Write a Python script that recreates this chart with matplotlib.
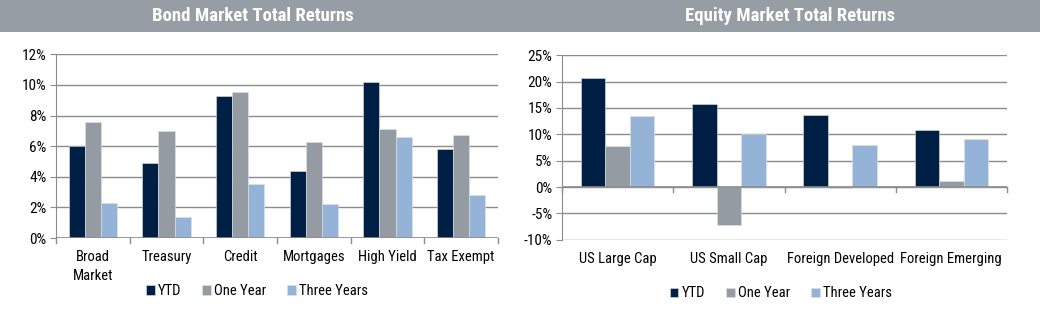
import matplotlib.pyplot as plt
import matplotlib.ticker as mticker
import numpy as np

plt.rcParams['font.family'] = ['Roboto Condensed', 'DejaVu Sans']

# bond market returns (%)
bond_cats = ['Broad\nMarket', 'Treasury', 'Credit', 'Mortgages', 'High Yield', 'Tax Exempt']
bond_ytd = [6.0, 4.9, 9.3, 4.4, 10.2, 5.8]
bond_one = [7.6, 7.0, 9.55, 6.3, 7.1, 6.7]
bond_three = [2.3, 1.4, 3.5, 2.2, 6.6, 2.8]

# equity market returns (%)
eq_cats = ['US Large Cap', 'US Small Cap', 'Foreign Developed', 'Foreign Emerging']
eq_ytd = [20.6, 15.7, 13.7, 10.9]
eq_one = [7.7, -7.2, -0.2, 1.1]
eq_three = [13.5, 10.1, 8.0, 9.2]

series_names = ['YTD', 'One Year', 'Three Years']
colors = ['#001F45', '#959BA2', '#95B3D7']
GRID = '#8c8c8c'
BAND = '#979DA4'

W, H = 1040, 323
fig = plt.figure(figsize=(W / 100, H / 100), dpi=100)

# grey title band across the top
band = fig.add_axes([0, 1 - 32 / H, 1, 32 / H])
band.set_facecolor(BAND)
band.set_xticks([])
band.set_yticks([])
for s in band.spines.values():
    s.set_visible(False)
fig.text(253 / W, 1 - 16 / H, 'Bond Market Total Returns', color='white',
         fontsize=13.5, fontweight='bold', ha='center', va='center')
fig.text(790 / W, 1 - 16 / H, 'Equity Market Total Returns', color='white',
         fontsize=13.5, fontweight='bold', ha='center', va='center')


def px_axes(x0, x1, y0, y1):
    return fig.add_axes([x0 / W, 1 - y1 / H, (x1 - x0) / W, (y1 - y0) / H])


def draw_bars(ax, cats, data, bw=0.22):
    x = np.arange(len(cats))
    for i, (vals, c, name) in enumerate(zip(data, colors, series_names)):
        ax.bar(x + (i - 1) * bw, vals, bw, color=c, label=name,
               edgecolor='#dfe3e8', linewidth=0.4, zorder=3)
    ax.set_xlim(-0.5, len(cats) - 0.5)
    for s in ['top', 'right', 'bottom']:
        ax.spines[s].set_visible(False)
    ax.spines['left'].set_color(GRID)
    ax.yaxis.grid(True, color=GRID, linewidth=1.0, zorder=0)
    ax.tick_params(axis='y', length=4, color=GRID, labelsize=11, pad=3)
    ax.yaxis.set_major_formatter(mticker.FuncFormatter(lambda v, p: '%d%%' % round(v)))
    ax.set_xticks([])
    return x


def add_legend(ax, cx):
    ax.legend(loc='upper center', bbox_to_anchor=(cx, -0.18), ncol=3,
              frameon=False, fontsize=10.5, handlelength=0.6, handleheight=0.6,
              handletextpad=0.25, columnspacing=1.4)


# bond chart
ax1 = px_axes(56, 498, 54, 238)
x1 = draw_bars(ax1, bond_cats, [bond_ytd, bond_one, bond_three])
ax1.set_ylim(0, 12.02)
ax1.set_yticks(range(0, 13, 2))
ax1.axhline(0, color=GRID, linewidth=1.2, zorder=4)
for b in np.arange(len(bond_cats) + 1) - 0.5:
    ax1.plot([b, b], [0, -0.35], color=GRID, linewidth=1, clip_on=False)
for xi, lab in zip(x1, bond_cats):
    ax1.text(xi, -0.8, lab, ha='center', va='top', fontsize=10.5,
             linespacing=1.4)
add_legend(ax1, 0.455)

# equity chart
ax2 = px_axes(562, 1007, 55, 240)
x2 = draw_bars(ax2, eq_cats, [eq_ytd, eq_one, eq_three])
ax2.set_ylim(-10.05, 25.05)
ax2.set_yticks(range(-10, 26, 5))
ax2.axhline(0, color=GRID, linewidth=1.2, zorder=4)
for b in np.arange(len(eq_cats) + 1) - 0.5:
    ax2.plot([b, b], [0, -1.0], color=GRID, linewidth=1, clip_on=False)
for xi, lab in zip(x2, eq_cats):
    ax2.text(xi, -12.3, lab, ha='center', va='top', fontsize=10.5)
add_legend(ax2, 0.492)

fig.savefig('out.png', dpi=100)
